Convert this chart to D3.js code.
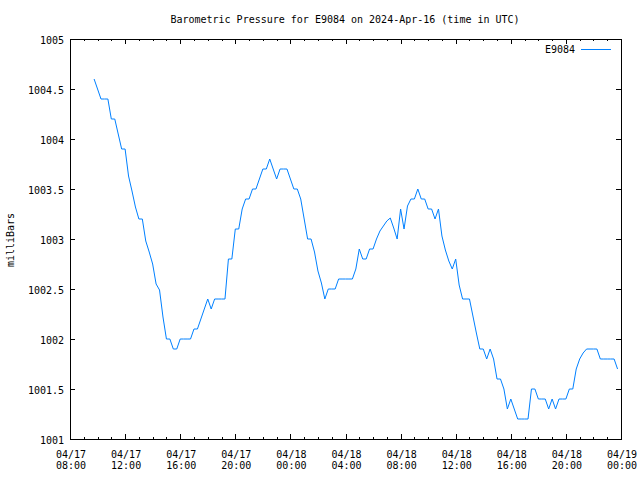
<!DOCTYPE html>
<html><head><meta charset="utf-8">
<script src="https://cdn.jsdelivr.net/npm/d3@7"></script>
<style>
body{margin:0;background:#fff;}
svg{display:block;background:#fff;}
text{font-family:"DejaVu Sans Mono",monospace;font-size:10px;fill:#000;}
</style></head><body>
<svg id="chart" width="640" height="480"></svg>
<script>
const titleText = "Barometric Pressure for E9084 on 2024-Apr-16 (time in UTC)";
const yLabelText = "milliBars";
const seriesName = "E9084";
const lineColor = "#0080ff";

const times = [
"17 09:45",
"17 10:00","17 10:15","17 10:30","17 10:45","17 11:00","17 11:15","17 11:30","17 11:45",
"17 12:00","17 12:15","17 12:30","17 12:45","17 13:00","17 13:15","17 13:30","17 13:45",
"17 14:00","17 14:15","17 14:30","17 14:45","17 15:00","17 15:15","17 15:30","17 15:45",
"17 16:00","17 16:15","17 16:30","17 16:45","17 17:00","17 17:15","17 17:30","17 17:45",
"17 18:00","17 18:15","17 18:30","17 18:45","17 19:00","17 19:15","17 19:30","17 19:45",
"17 20:00","17 20:15","17 20:30","17 20:45","17 21:00","17 21:15","17 21:30","17 21:45",
"17 22:00","17 22:15","17 22:30","17 22:45","17 23:00","17 23:15","17 23:30","17 23:45",
"18 00:00","18 00:15","18 00:30","18 00:45","18 01:00","18 01:15","18 01:30","18 01:45",
"18 02:00","18 02:15","18 02:30","18 02:45","18 03:00","18 03:15","18 03:30","18 03:45",
"18 04:00","18 04:15","18 04:30","18 04:45","18 05:00","18 05:15","18 05:30","18 05:45",
"18 06:00","18 06:15","18 06:30","18 06:45","18 07:00","18 07:15","18 07:30","18 07:45",
"18 08:00","18 08:15","18 08:30","18 08:45","18 09:00","18 09:15","18 09:30","18 09:45",
"18 10:00","18 10:15","18 10:30","18 10:45","18 11:00","18 11:15","18 11:30","18 11:45",
"18 12:00","18 12:15","18 12:30","18 12:45","18 13:00","18 13:15","18 13:30","18 13:45",
"18 14:00","18 14:15","18 14:30","18 14:45","18 15:00","18 15:15","18 15:30","18 15:45",
"18 16:00","18 16:15","18 16:30","18 16:45","18 17:00","18 17:15","18 17:30","18 17:45",
"18 18:00","18 18:15","18 18:30","18 18:45","18 19:00","18 19:15","18 19:30","18 19:45",
"18 20:00","18 20:15","18 20:30","18 20:45","18 21:00","18 21:15","18 21:30","18 21:45",
"18 22:00","18 22:15","18 22:30","18 22:45","18 23:00","18 23:15","18 23:30","18 23:45"
];

const pressure = [
1004.6,1004.5,1004.4,1004.4,1004.4,1004.2,1004.2,1004.05,1003.9,1003.9,
1003.63,1003.48,1003.32,1003.2,1003.2,1002.98,1002.87,1002.75,1002.55,1002.49,
1002.22,1002.0,1002.0,1001.9,1001.9,1002.0,1002.0,1002.0,1002.0,1002.1,
1002.1,1002.2,1002.3,1002.4,1002.3,1002.4,1002.4,1002.4,1002.4,1002.8,
1002.8,1003.1,1003.1,1003.3,1003.4,1003.4,1003.5,1003.5,1003.6,1003.7,
1003.7,1003.8,1003.7,1003.6,1003.7,1003.7,1003.7,1003.6,1003.5,1003.5,
1003.4,1003.2,1003.0,1003.0,1002.87,1002.68,1002.56,1002.4,1002.5,1002.5,
1002.5,1002.6,1002.6,1002.6,1002.6,1002.6,1002.7,1002.9,1002.8,1002.8,
1002.9,1002.9,1003.0,1003.08,1003.13,1003.18,1003.21,1003.11,1003.0,1003.3,
1003.1,1003.33,1003.4,1003.4,1003.5,1003.4,1003.4,1003.3,1003.3,1003.2,
1003.3,1003.03,1002.89,1002.78,1002.7,1002.8,1002.54,1002.4,1002.4,1002.4,
1002.23,1002.06,1001.9,1001.9,1001.8,1001.9,1001.8,1001.6,1001.6,1001.5,
1001.3,1001.4,1001.3,1001.2,1001.2,1001.2,1001.2,1001.5,1001.5,1001.4,
1001.4,1001.4,1001.3,1001.4,1001.3,1001.4,1001.4,1001.4,1001.5,1001.5,
1001.7,1001.8,1001.86,1001.9,1001.9,1001.9,1001.9,1001.8,1001.8,1001.8,
1001.8,1001.8,1001.7
];

const xTickTimes = ["17 08:00","17 12:00","17 16:00","17 20:00","18 00:00","18 04:00",
                    "18 08:00","18 12:00","18 16:00","18 20:00","19 00:00"];
const yTicks = [1001,1001.5,1002,1002.5,1003,1003.5,1004,1004.5,1005];
const yTickLabels = ["1001","1001.5","1002","1002.5","1003","1003.5","1004","1004.5","1005"];

const parseTime = s => d3.utcParse("%Y-%m-%d %H:%M")("2024-04-" + s);
const data = times.map((t, i) => ({t: parseTime(t), v: pressure[i]}));
const xTicks = xTickTimes.map(parseTime);

const svg = d3.select("#chart");
const x = d3.scaleUtc().domain([xTicks[0], xTicks[xTicks.length - 1]]).range([70, 621]);
const y = d3.scaleLinear().domain([1001, 1005]).range([439, 39]);

function clean(g){ g.select(".domain").remove(); g.attr("font-family", null).attr("font-size", null); }

// minor hourly ticks (bottom, pointing up; top, pointing down)
const hours = d3.utcHour.range(xTicks[0], d3.utcHour.offset(xTicks[xTicks.length-1], 1));
svg.append("g").attr("transform", "translate(0,439)")
  .call(d3.axisTop(x).tickValues(hours).tickSize(2).tickFormat("")).call(clean);
svg.append("g").attr("transform", "translate(0,39)")
  .call(d3.axisBottom(x).tickValues(hours).tickSize(2).tickFormat("")).call(clean);
// major ticks
svg.append("g").attr("transform", "translate(0,439)")
  .call(d3.axisTop(x).tickValues(xTicks).tickSize(5).tickFormat("")).call(clean);
svg.append("g").attr("transform", "translate(0,39)")
  .call(d3.axisBottom(x).tickValues(xTicks).tickSize(5).tickFormat("")).call(clean);
svg.append("g").attr("transform", "translate(70,0)")
  .call(d3.axisRight(y).tickValues(yTicks).tickSize(5).tickFormat("")).call(clean);
svg.append("g").attr("transform", "translate(621,0)")
  .call(d3.axisLeft(y).tickValues(yTicks).tickSize(5).tickFormat("")).call(clean);
svg.selectAll(".tick line").attr("stroke", "#000").attr("shape-rendering", "crispEdges");

// x labels (two lines)
const fmtD = d3.utcFormat("%m/%d"), fmtT = d3.utcFormat("%H:%M");
const gx = svg.append("g").attr("transform", "translate(0,439)")
  .call(d3.axisBottom(x).tickValues(xTicks).tickSize(0).tickFormat("")).call(clean);
gx.selectAll(".tick text").each(function(d){
  const t = d3.select(this).attr("y", null).attr("dy", null).text(null);
  t.append("tspan").attr("x", 0.5).attr("y", 19).text(fmtD(d));
  t.append("tspan").attr("x", 0.5).attr("y", 30).text(fmtT(d));
});

// y labels
svg.append("g").attr("transform", "translate(70,0)")
  .call(d3.axisLeft(y).tickValues(yTicks).tickSize(0).tickPadding(6)
    .tickFormat((d, i) => yTickLabels[i])).call(clean)
  .selectAll(".tick text").attr("dy", "0.45em");

// frame
svg.append("rect").attr("x", 70.5).attr("y", 39.5).attr("width", 551).attr("height", 400)
  .attr("fill", "none").attr("stroke", "#000").attr("stroke-width", 1).attr("shape-rendering", "crispEdges");

// data line
const line = d3.line().x(d => x(d.t)).y(d => y(d.v));
svg.append("path").datum(data).attr("d", line)
  .attr("fill", "none").attr("stroke", lineColor).attr("stroke-width", 1);

// title
svg.append("text").attr("x", 345).attr("y", 23).attr("text-anchor", "middle").text(titleText);
// y label
svg.append("text").attr("transform", "translate(14,240) rotate(-90)").attr("text-anchor", "middle").text(yLabelText);
// legend
svg.append("text").attr("x", 575).attr("y", 53).attr("text-anchor", "end").text(seriesName);
svg.append("line").attr("x1", 581).attr("x2", 611).attr("y1", 49.5).attr("y2", 49.5)
  .attr("stroke", lineColor).attr("stroke-width", 1);
</script>
</body></html>
